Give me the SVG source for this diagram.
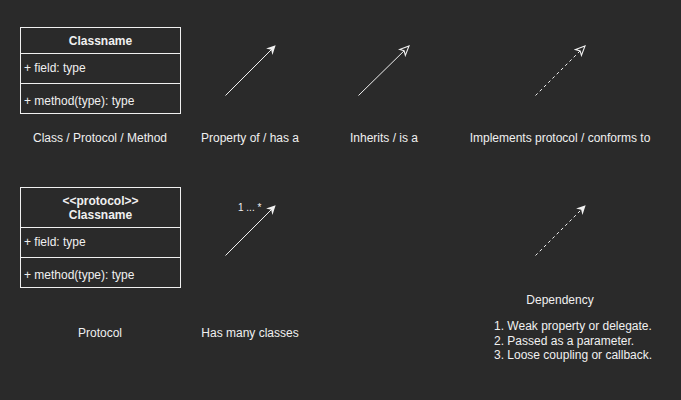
<svg xmlns="http://www.w3.org/2000/svg" width="681" height="400" viewBox="0 0 681 400">
<style>
text{font-family:"Liberation Sans",Arial,sans-serif;font-size:12px;fill:#f0f0f0}
.b{font-weight:bold}
.c{text-anchor:middle}
.box{fill:none;stroke:#f0f0f0;stroke-width:1}
.ln{fill:none;stroke:#f0f0f0;stroke-width:1}
.d{stroke-dasharray:3 3}
</style>
<defs>
<marker id="fill" viewBox="0 0 10 10" refX="9" refY="5" markerWidth="9" markerHeight="9" markerUnits="userSpaceOnUse" orient="auto"><path d="M0,0 L10,5 L0,10 L3,5 Z" fill="#f0f0f0"/></marker>
<marker id="open" viewBox="0 0 12 12" refX="11" refY="6" markerWidth="11" markerHeight="11" markerUnits="userSpaceOnUse" orient="auto"><path d="M1,1.5 L11,6 L1,10.5 L3.5,6 Z" fill="#2a2a2a" stroke="#f0f0f0" stroke-width="1.2"/></marker>
</defs>
<rect width="681" height="400" fill="#2a2a2a"/>
<g id="class">
<rect class="box" x="20.5" y="27.5" width="160" height="86"/>
<line class="box" x1="20.5" y1="53.5" x2="180.5" y2="53.5"/>
<line class="box" x1="20.5" y1="83.5" x2="180.5" y2="83.5"/>
<text class="b c" x="100.5" y="45">Classname</text>
<text x="24" y="72">+ field: type</text>
<text x="24" y="105">+ method(type): type</text>
</g>
<g id="protocol">
<rect class="box" x="20.5" y="187.5" width="160" height="100"/>
<line class="box" x1="20.5" y1="227.5" x2="180.5" y2="227.5"/>
<line class="box" x1="20.5" y1="257.5" x2="180.5" y2="257.5"/>
<text class="b c" x="100.5" y="205">&lt;&lt;protocol&gt;&gt;</text>
<text class="b c" x="100.5" y="219">Classname</text>
<text x="24" y="246">+ field: type</text>
<text x="24" y="279">+ method(type): type</text>
</g>
<g id="labels">
<text class="c" x="100" y="142">Class / Protocol / Method</text>
<text class="c" x="250" y="142">Property of / has a</text>
<text class="c" x="384" y="142">Inherits / is a</text>
<text class="c" x="560" y="142">Implements protocol / conforms to</text>
<text class="c" x="100" y="337">Protocol</text>
<text class="c" x="250" y="337">Has many classes</text>
<text class="c" x="560" y="304">Dependency</text>
<text x="494" y="330">1. Weak property or delegate.</text>
<text x="494" y="345">2. Passed as a parameter.</text>
<text x="494" y="359">3. Loose coupling or callback.</text>
<text x="238" y="211" style="font-size:10px">1 ... *</text>
</g>
<g id="connectors">
<line class="ln" x1="225.5" y1="95.5" x2="275" y2="46" marker-end="url(#fill)"/>
<line class="ln" x1="358.5" y1="95.5" x2="409" y2="46" marker-end="url(#open)"/>
<line class="ln d" x1="535.5" y1="95.5" x2="585" y2="46" marker-end="url(#open)"/>
<line class="ln" x1="225.5" y1="255.5" x2="275" y2="206" marker-end="url(#fill)"/>
<line class="ln d" x1="535.5" y1="255.5" x2="585" y2="206" marker-end="url(#fill)"/>
</g>
</svg>
